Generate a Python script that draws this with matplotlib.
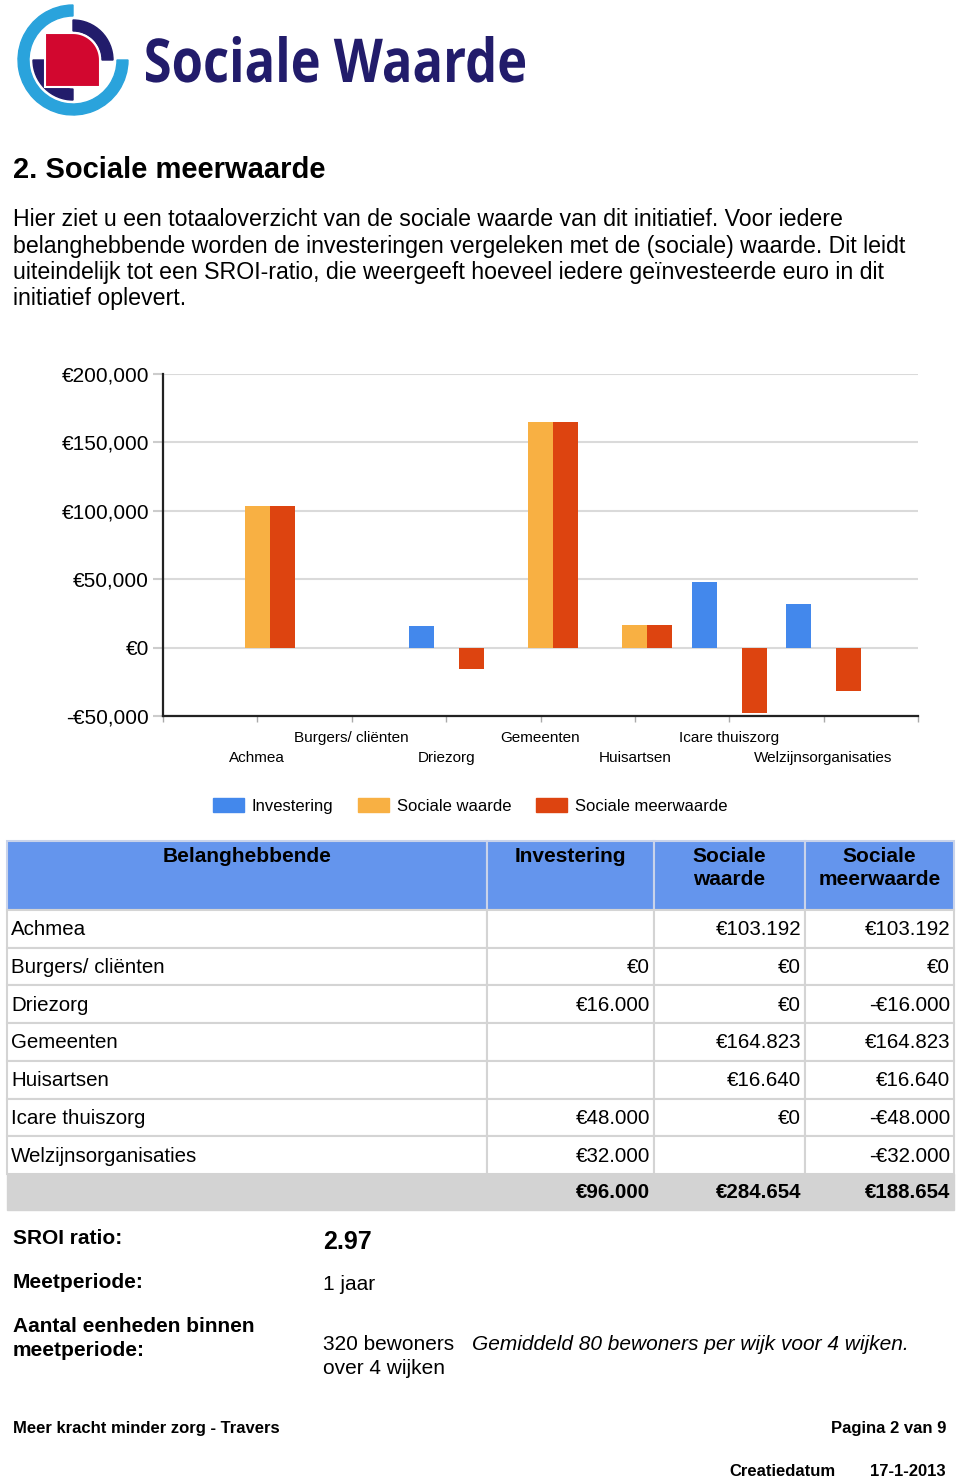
import matplotlib
matplotlib.use("Agg")
import matplotlib.pyplot as plt
from matplotlib.patches import Wedge, Rectangle, Polygon, Patch, PathPatch
from matplotlib.textpath import TextPath
from matplotlib.font_manager import FontProperties
from matplotlib.transforms import Affine2D
import numpy as np

plt.rcParams['font.family'] = ['Liberation Sans', 'DejaVu Sans']

# chart data
categories = ["Achmea", "Burgers/ cliënten", "Driezorg", "Gemeenten",
              "Huisartsen", "Icare thuiszorg", "Welzijnsorganisaties"]
investering = [0, 0, 16000, 0, 0, 48000, 32000]
sociale_waarde = [103192, 0, 0, 164823, 16640, 0, 0]
sociale_meerwaarde = [103192, 0, -16000, 164823, 16640, -48000, -32000]
y_ticks = [-50000, 0, 50000, 100000, 150000, 200000]
series_names = ["Investering", "Sociale waarde", "Sociale meerwaarde"]
colors = ['#4388ec', '#f8b043', '#dd4410']

# table data
tbl_header = ["Belanghebbende", "Investering", "Sociale\nwaarde", "Sociale\nmeerwaarde"]
tbl_inv = ["", "€0", "€16.000", "", "", "€48.000", "€32.000"]
tbl_sw = ["€103.192", "€0", "€0", "€164.823", "€16.640", "€0", ""]
tbl_smw = ["€103.192", "€0", "-€16.000", "€164.823", "€16.640", "-€48.000", "-€32.000"]
tbl_total = ["€96.000", "€284.654", "€188.654"]

W, H = 960, 1479
fig = plt.figure(figsize=(W / 100, H / 100), dpi=100)

# page layer in pixel coordinates
page = fig.add_axes([0, 0, 1, 1])
page.set_xlim(0, W)
page.set_ylim(H, 0)
page.axis('off')

# logo
cx, cy = 73, 60
page.add_patch(Wedge((cx, cy), 55, 0, 270, width=11, color='#2aa3dc'))
page.add_patch(Wedge((cx, cy), 40, 270, 360, width=11, color='#221c6b'))
page.add_patch(Wedge((cx, cy), 40, 90, 180, width=11, color='#221c6b'))
t = np.linspace(np.pi / 2, 0, 30)
arc = np.column_stack([cx + 27 * np.cos(t), cy - 27 * np.sin(t)])
red_pts = np.vstack([[[45, 33]], arc, [[cx + 27, 87], [45, 87]]])
page.add_patch(Polygon(red_pts, closed=True, facecolor='#d2072f', edgecolor='white', lw=1.5))

# logo word mark, fitted to its box
tp = TextPath((0, 0), "Sociale Waarde", size=1,
              prop=FontProperties(family='Open Sans', weight='bold'))
ext = tp.get_extents()
sx = (525 - 146) / ext.width
sy = (82 - 36) / ext.ymax
tr = Affine2D().translate(-ext.xmin, 0).scale(sx, -sy).translate(146, 82)
page.add_patch(PathPatch(tr.transform_path(tp), facecolor='#221c6b', edgecolor='none'))

# title and intro
page.text(13, 170, "2. Sociale meerwaarde", fontsize=21, fontweight='bold', va='center')
intro = ["Hier ziet u een totaaloverzicht van de sociale waarde van dit initiatief. Voor iedere",
         "belanghebbende worden de investeringen vergeleken met de (sociale) waarde. Dit leidt",
         "uiteindelijk tot een SROI-ratio, die weergeeft hoeveel iedere geïnvesteerde euro in dit",
         "initiatief oplevert."]
for k, line in enumerate(intro):
    page.text(13, 220 + 26 * k, line, fontsize=16.7, va='center')

# chart
ax = fig.add_axes([163 / W, 1 - 716 / H, (918 - 163) / W, (716 - 374) / H])
x = np.arange(len(categories))
bw = 0.265
ax.bar(x - bw, investering, bw, color=colors[0], zorder=3)
ax.bar(x, sociale_waarde, bw, color=colors[1], zorder=3)
ax.bar(x + bw, sociale_meerwaarde, bw, color=colors[2], zorder=3)
ax.set_xlim(-1, 7)
ax.set_ylim(-50000, 200000)
ax.set_yticks(y_ticks)
ax.set_yticklabels([('-€{:,}'.format(-v) if v < 0 else '€{:,}'.format(v)) for v in y_ticks])
ax.yaxis.grid(True, color='#dadada', lw=1.5)
ax.set_axisbelow(True)
ax.tick_params(axis='y', length=7, color='#cccccc', width=1.5, pad=3, labelsize=15)
ax.set_xticks(np.arange(-1, 8))
ax.set_xticklabels([])
ax.tick_params(axis='x', length=4, color='#aaaaaa', width=1)
for s in ['top', 'right']:
    ax.spines[s].set_visible(False)
for s in ['left', 'bottom']:
    ax.spines[s].set_linewidth(1.6)
    ax.spines[s].set_color('#222222')
    ax.spines[s].set_zorder(4)
for i, name in enumerate(categories):
    yoff = -42 if i % 2 == 0 else -22
    ax.annotate(name, (i, 0), xycoords=ax.get_xaxis_transform(), xytext=(0, yoff * 0.72),
                textcoords='offset points', ha='center', va='center', fontsize=11)

handles = [Patch(color=c) for c in colors]
fig.legend(handles, series_names, loc='center', bbox_to_anchor=(470 / W, 1 - 806 / H),
           ncol=3, frameon=False, fontsize=12, handlelength=1.9, handleheight=0.85,
           handletextpad=0.45, columnspacing=1.45)

# table
cols = [7, 487, 654, 805, 954]
grid_c = '#d4d4d4'
for j in range(4):
    page.add_patch(Rectangle((cols[j], 841), cols[j + 1] - cols[j], 69,
                             facecolor='#6495ed', edgecolor='#c9d3ea', lw=1.5))
    page.text((cols[j] + cols[j + 1]) / 2, 847, tbl_header[j], fontsize=15, fontweight='bold',
              ha='center', va='top', linespacing=1.25)
rh = 37.7
for r, name in enumerate(categories):
    y0 = 910 + rh * r
    for j in range(4):
        page.add_patch(Rectangle((cols[j], y0), cols[j + 1] - cols[j], rh,
                                 facecolor='white', edgecolor=grid_c, lw=1.5))
    yc = y0 + rh / 2 + 1
    page.text(11, yc, name, fontsize=14.8, va='center')
    for j, vals in enumerate([tbl_inv, tbl_sw, tbl_smw]):
        page.text(cols[j + 2] - 4, yc, vals[r], fontsize=14.8, va='center', ha='right')
page.add_patch(Rectangle((cols[0], 1174), cols[-1] - cols[0], 36, facecolor='#d3d3d3',
                         edgecolor='#d3d3d3', lw=1))
for j, v in enumerate(tbl_total):
    page.text(cols[j + 2] - 4, 1192, v, fontsize=14.8, fontweight='bold', va='center', ha='right')

# summary
page.text(13, 1239, "SROI ratio:", fontsize=15, fontweight='bold', va='center')
page.text(323, 1242, "2.97", fontsize=18, fontweight='bold', va='center')
page.text(13, 1283, "Meetperiode:", fontsize=15, fontweight='bold', va='center')
page.text(323, 1285, "1 jaar", fontsize=15, va='center')
page.text(13, 1327, "Aantal eenheden binnen", fontsize=15, fontweight='bold', va='center')
page.text(13, 1351, "meetperiode:", fontsize=15, fontweight='bold', va='center')
page.text(323, 1345, "320 bewoners", fontsize=15, va='center')
page.text(323, 1368, "over 4 wijken", fontsize=15, va='center')
page.text(472, 1345, "Gemiddeld 80 bewoners per wijk voor 4 wijken.", fontsize=15,
          style='italic', va='center')

# footer
page.text(13, 1429, "Meer kracht minder zorg - Travers", fontsize=12, fontweight='bold', va='center')
page.text(946, 1429, "Pagina 2 van 9", fontsize=12, fontweight='bold', va='center', ha='right')
page.text(729, 1472, "Creatiedatum", fontsize=12, fontweight='bold', va='center')
page.text(946, 1472, "17-1-2013", fontsize=12, fontweight='bold', va='center', ha='right')

fig.savefig("out.png", dpi=100)
